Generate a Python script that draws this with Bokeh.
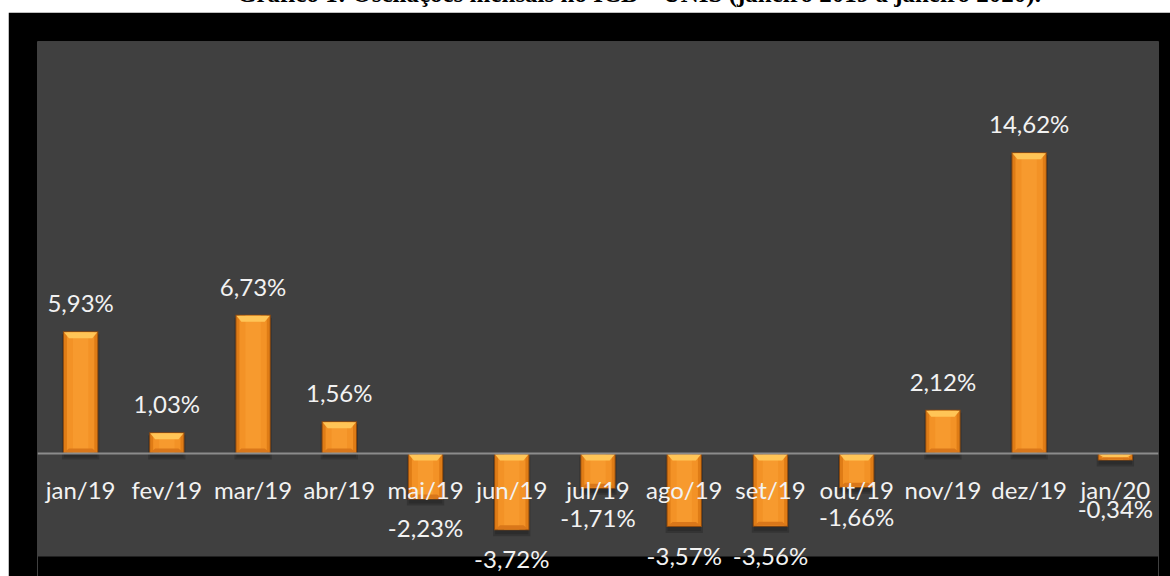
from bokeh.plotting import figure
from bokeh.models import Range1d, FixedTicker, LabelSet, ColumnDataSource, Div, Spacer, BoxAnnotation
from bokeh.core.properties import value
from bokeh.layouts import column, row
from bokeh.embed import file_html
from bokeh.resources import INLINE

# ---- data ----
categories = ["jan/19", "fev/19", "mar/19", "abr/19", "mai/19", "jun/19", "jul/19",
              "ago/19", "set/19", "out/19", "nov/19", "dez/19", "jan/20"]
values = [5.93, 1.03, 6.73, 1.56, -2.23, -3.72, -1.71, -3.57, -3.56, -1.66, 2.12, 14.62, -0.34]
value_labels = ["5,93%", "1,03%", "6,73%", "1,56%", "-2,23%", "-3,72%", "-1,71%",
                "-3,57%", "-3,56%", "-1,66%", "2,12%", "14,62%", "-0,34%"]
title_text = "Gráfico 1: Oscilações mensais no ICB – UNIS (janeiro 2019 a janeiro 2020)."

# ---- geometry helpers ----
n = len(categories)
FRAME_W, GRAY_H = 1121, 515
Y0, Y1 = -5, 20
uy = (Y1 - Y0) / GRAY_H       # data units per pixel (y)
ux = n / FRAME_W              # data units per pixel (x)
BOTTOM_PAD = 20               # black band below the gray plot area (px)
W = 0.41
xs = list(range(n))
tops = [max(v, 0) for v in values]
bots = [min(v, 0) for v in values]

p = figure(width=1162, height=564, output_backend="svg", toolbar_location=None,
           x_range=Range1d(-0.5, n - 0.5), y_range=Range1d(Y0 - BOTTOM_PAD * uy, Y1),
           min_border_left=29, min_border_right=12, min_border_top=29, min_border_bottom=0,
           background_fill_color="#000000", border_fill_color="#000000",
           outline_line_color=None)
p.grid.visible = False
p.yaxis.visible = False

# gray plot area
p.add_layout(BoxAnnotation(bottom=Y0, fill_color="#404040", fill_alpha=1.0,
                           line_color=None, level="underlay"))

# shadow
p.quad(left=[x - W / 2 - 1 * ux for x in xs], right=[x + W / 2 + 1 * ux for x in xs],
       top=[t - 3 * uy for t in tops], bottom=[b - 6 * uy for b in bots],
       fill_color="#000000", fill_alpha=0.18, line_color=None)
p.quad(left=[x - W / 2 + 1 * ux for x in xs], right=[x + W / 2 - 1 * ux for x in xs],
       top=[t - 3 * uy for t in tops], bottom=[b - 4 * uy for b in bots],
       fill_color="#000000", fill_alpha=0.15, line_color=None)
# outer edge
p.quad(left=[x - W / 2 for x in xs], right=[x + W / 2 for x in xs], top=tops, bottom=bots,
       fill_color="#8E4A0E", line_color=None)
# body
p.quad(left=[x - W / 2 + 1 * ux for x in xs], right=[x + W / 2 - 1 * ux for x in xs],
       top=[t - 1 * uy for t in tops], bottom=[b + 1 * uy for b in bots],
       fill_color="#DF7C16", line_color=None)
p.quad(left=[x - W / 2 + 4 * ux for x in xs], right=[x + W / 2 - 4 * ux for x in xs],
       top=[t - 1 * uy for t in tops], bottom=[b + 1 * uy for b in bots],
       fill_color="#F39226", line_color=None)
p.quad(left=[x - W / 2 + 10 * ux for x in xs], right=[x + W / 2 - 10 * ux for x in xs],
       top=[t - 1 * uy for t in tops], bottom=[b + 1 * uy for b in bots],
       fill_color="#F79A2E", line_color=None)

# bevels
bev_xs, bev_ys, low_xs, low_ys = [], [], [], []
for x, t, b in zip(xs, tops, bots):
    hpx = (t - b) / uy
    bh = min(6, 0.4 * hpx) * uy
    l, r = x - W / 2 + 1 * ux, x + W / 2 - 1 * ux
    ins = 5 * ux
    tt = t - 1 * uy
    bev_xs.append([l, r, r - ins, l + ins])
    bev_ys.append([tt, tt, tt - bh, tt - bh])
    bb = b + 1 * uy
    lh = min(4, 0.3 * hpx) * uy
    low_xs.append([l, r, r - ins, l + ins])
    low_ys.append([bb, bb, bb + lh, bb + lh])
p.patches(bev_xs, bev_ys, fill_color="#FFC557", line_color=None)
p.patches(low_xs, low_ys, fill_color="#D9771A", line_color=None)

# axis at zero
p.xaxis.fixed_location = 0
p.xaxis.ticker = FixedTicker(ticks=xs)
p.xaxis.major_label_overrides = {x: c for x, c in zip(xs, categories)}
p.xaxis.axis_line_color = "#8C8C8C"
p.xaxis.axis_line_width = 2
p.xaxis.major_tick_line_color = None
p.xaxis.minor_tick_line_color = None
p.xaxis.major_label_text_font = "Lato"
p.xaxis.major_label_text_font_size = "24px"
p.xaxis.major_label_text_color = "#F2F2F2"
p.xaxis.major_label_standoff = 15

# value labels
lab_y = []
for v in values:
    if v >= 0:
        lab_y.append(v + 19 * uy)
    else:
        d = max(-v / uy + 38, 64)
        lab_y.append(-d * uy)
src = ColumnDataSource(dict(x=xs, y=lab_y, text=value_labels))
p.add_layout(LabelSet(x="x", y="y", text="text", source=src, text_align="center",
                      text_baseline="alphabetic", text_font=value("Lato"),
                      text_font_size="24px", text_color="#F2F2F2"))

title = Div(text=('<div style="position:absolute; left:237px; top:-19px; white-space:nowrap; '
                  'font-family:\'Liberation Serif\'; font-weight:bold; font-size:25px; '
                  'line-height:25px; color:#000;">' + title_text + '</div>'),
            width=1170, height=12, margin=0,
            styles={"overflow": "hidden", "position": "relative", "background-color": "#ffffff"})

layout = column(title, row(Spacer(width=8, height=564, margin=0), p, margin=0), margin=0)
open("out.html", "w").write(file_html(layout, INLINE))
